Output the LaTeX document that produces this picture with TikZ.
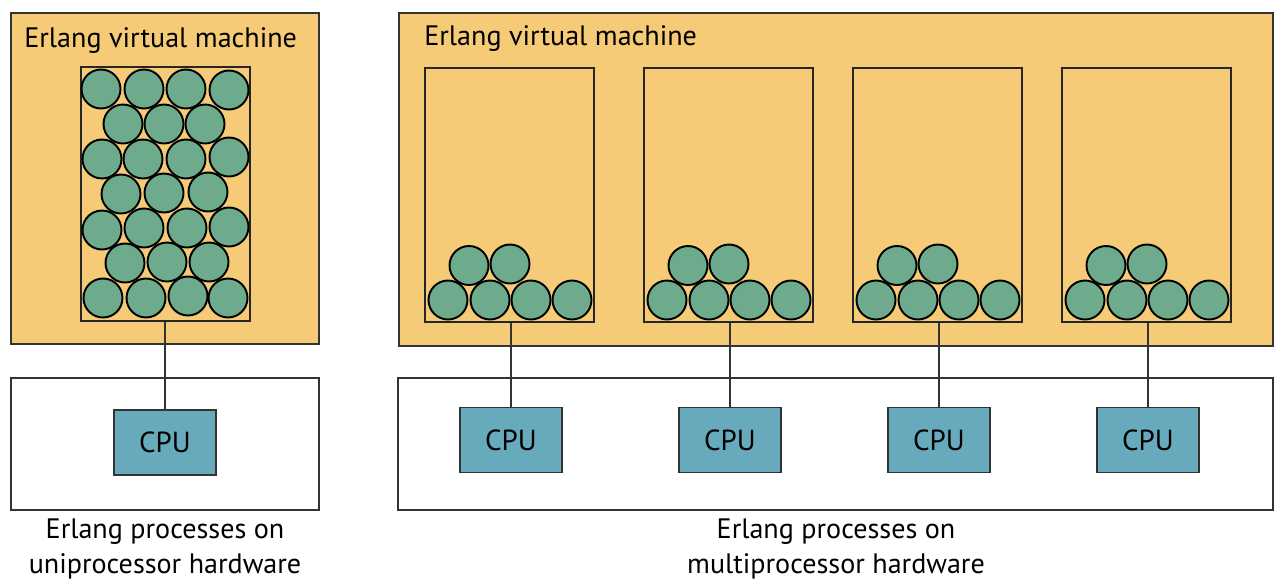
\documentclass[tikz,border=0pt]{standalone}
\usepackage{fontspec}
\setmainfont{PT Sans}
\usetikzlibrary{positioning}
\definecolor{vmorange}{HTML}{F6CB77}
\definecolor{procgreen}{HTML}{6DAB8C}
\definecolor{cputeal}{HTML}{66AABC}
\tikzstyle{vm}=[rectangle,draw=black!80,fill=vmorange,line width=1.1pt,inner sep=0pt]
\tikzstyle{hw}=[rectangle,draw=black!80,fill=white,line width=1.1pt,inner sep=0pt]
\tikzstyle{sched}=[rectangle,draw=black!85,line width=1pt,inner sep=0pt,
minimum width=3.38cm,minimum height=5.08cm]
\tikzstyle{proc}=[circle,draw=black,fill=procgreen,line width=1.1pt,inner sep=0pt,minimum size=0.78cm]
\tikzstyle{cpu}=[rectangle,draw=black!80,fill=cputeal,line width=1pt,
minimum width=2.04cm,minimum height=1.3cm,font=\fontsize{16.5}{18}\selectfont]
\tikzstyle{title}=[anchor=west,inner sep=0pt,font=\fontsize{16}{18}\selectfont]
\tikzstyle{caption}=[align=center,inner sep=0pt,font=\fontsize{16}{20}\selectfont]
\tikzstyle{link}=[draw=black!80,line width=1pt]

\begin{document}
\begin{tikzpicture}[x=0.02cm,y=-0.02cm]
        \useasboundingbox (0,0) rectangle (1283,585);
        % uniprocessor
        \node [vm,minimum width=6.16cm,minimum height=6.62cm] (vmL) at (165,178.5) {};
        \node [title] (tL) at (24,41) {Erlang virtual machine};
        \node [hw,minimum width=6.16cm,minimum height=2.64cm] (hwL) at (165,444) {};
        \node [sched] (sL) at (165.5,194) {};
        \foreach \x/\y [count=\i] in {101/89,144/89,186/89,229/90,
                123/124,164/124,205/124,
                102/159,143/159,186/159,229/157,
                121/194,164/193,208/192,
                102/230,144/228,187/228,229/227,
                125/263,167/262,209/262,
                103/298,146/298,188/296,228/298}
            \node [proc] (pL\i) at (\x,\y) {};
        \node [cpu] (cL) at (165,442.5) {CPU};
        \draw [link] (sL.south -| cL.north) to (cL.north);
        \node [caption] (capL) at (165,549) {Erlang processes on\\uniprocessor hardware};
        % multiprocessor
        \node [vm,minimum width=17.48cm,minimum height=6.66cm] (vmR) at (836,179.5) {};
        \node [title] (tR) at (424,39) {Erlang virtual machine};
        \node [hw,minimum width=17.5cm,minimum height=2.64cm] (hwR) at (835.5,444) {};
        \foreach \n/\xl in {1/425,2/644,3/853,4/1062} {
            \node [sched] (s\n) at (\xl+84.5,195) {};
            \foreach \dx [count=\k] in {23,65,106,147}
                \node [proc] (p\n-\k) at (\xl+\dx,300) {};
            \node [proc] (p\n-5) at (\xl+44,265.5) {};
            \node [proc] (p\n-6) at (\xl+85,264) {};
            \node [cpu] (c\n) at (\xl+86,440) {CPU};
            \draw [link] (s\n.south -| c\n.north) to (c\n.north);
        }
        \node [caption] (capR) at (836,549) {Erlang processes on\\multiprocessor hardware};
    \end{tikzpicture}
\end{document}
